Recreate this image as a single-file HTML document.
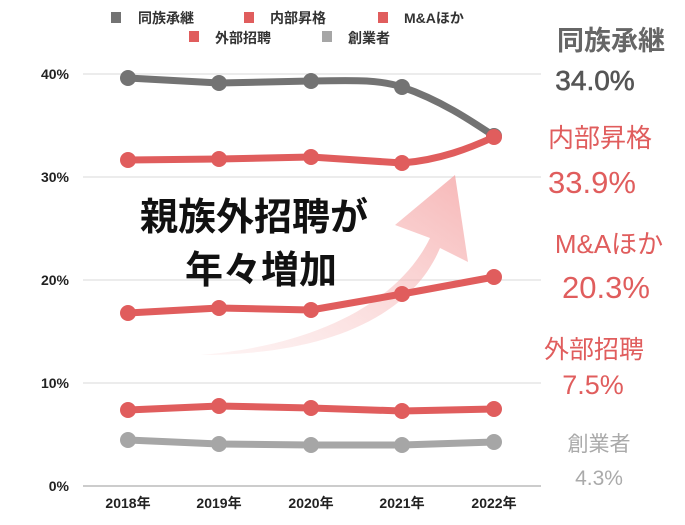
<!DOCTYPE html>
<html><head><meta charset="utf-8"><style>
body{margin:0;background:#fff;}
svg text{font-family:"Liberation Sans","Noto Sans CJK JP",sans-serif;}
</style></head><body>
<svg width="685" height="520" viewBox="0 0 685 520" xmlns="http://www.w3.org/2000/svg">
<defs>
<linearGradient id="g" x1="0" y1="1" x2="1" y2="0">
<stop offset="0" stop-color="#f8c8c8" stop-opacity="0.2"/>
<stop offset="1" stop-color="#f4a0a0" stop-opacity="0.75"/>
</linearGradient>
</defs>
<g font-size="14" font-weight="bold" fill="#333">
<rect x="111" y="12" width="10" height="11" fill="#737373"/><text x="138" y="23">同族承継</text>
<rect x="244" y="12" width="10" height="11" fill="#e05d5d"/><text x="270" y="23">内部昇格</text>
<rect x="378" y="12" width="10" height="11" fill="#e05d5d"/><text x="404" y="23">M&amp;Aほか</text>
<rect x="189" y="31" width="10" height="11" fill="#e05d5d"/><text x="215" y="43">外部招聘</text>
<rect x="322" y="31" width="10" height="11" fill="#a6a6a6"/><text x="348" y="43">創業者</text>
</g>
<g stroke="#d9d9d9" stroke-width="1">
<line x1="83" y1="74" x2="541" y2="74"/><line x1="83" y1="177" x2="541" y2="177"/>
<line x1="83" y1="280" x2="541" y2="280"/><line x1="83" y1="383" x2="541" y2="383"/>
</g>
<line x1="83" y1="486" x2="541" y2="486" stroke="#999"/>
<g font-size="14" font-weight="bold" fill="#222" text-anchor="end">
<text x="69" y="79">40%</text><text x="69" y="182">30%</text><text x="69" y="285">20%</text><text x="69" y="388">10%</text><text x="69" y="491">0%</text>
</g>
<g font-size="14" font-weight="bold" fill="#222" text-anchor="middle">
<text x="128" y="508">2018年</text><text x="219" y="508">2019年</text><text x="311" y="508">2020年</text><text x="402" y="508">2021年</text><text x="494" y="508">2022年</text>
</g>
<path d="M200 355 C320 345 400 300 430 238 L395 225 L455 175 L468 262 L440 248 C410 320 320 355 200 355 Z" fill="url(#g)"/>
<g fill="none" stroke-width="7" stroke-linejoin="round" stroke-linecap="round">
<path d="M128 78 L219 83 L311 81 C360 80 380 80 402 87 C440 100 470 120 494 136" stroke="#737373"/>
<path d="M128 160 L219 159 L311 157 L402 163 C440 160 470 148 494 137" stroke="#e05d5d"/>
<path d="M128 313 L219 308 L311 310 L402 294 L494 277" stroke="#e05d5d"/>
<path d="M128 410 L219 406 L311 408 L402 411 L494 409" stroke="#e05d5d"/>
<path d="M128 440 L219 444 L311 445 L402 445 L494 442" stroke="#a6a6a6"/>
</g>
<g fill="#737373"><circle cx="128" cy="78" r="8"/><circle cx="219" cy="83" r="8"/><circle cx="311" cy="81" r="8"/><circle cx="402" cy="87" r="8"/><circle cx="494" cy="136" r="8"/></g>
<g fill="#e05d5d"><circle cx="128" cy="160" r="8"/><circle cx="219" cy="159" r="8"/><circle cx="311" cy="157" r="8"/><circle cx="402" cy="163" r="8"/><circle cx="494" cy="137" r="8"/>
<circle cx="128" cy="313" r="8"/><circle cx="219" cy="308" r="8"/><circle cx="311" cy="310" r="8"/><circle cx="402" cy="294" r="8"/><circle cx="494" cy="277" r="8"/>
<circle cx="128" cy="410" r="8"/><circle cx="219" cy="406" r="8"/><circle cx="311" cy="408" r="8"/><circle cx="402" cy="411" r="8"/><circle cx="494" cy="409" r="8"/></g>
<g fill="#a6a6a6"><circle cx="128" cy="440" r="8"/><circle cx="219" cy="444" r="8"/><circle cx="311" cy="445" r="8"/><circle cx="402" cy="445" r="8"/><circle cx="494" cy="442" r="8"/></g>
<g font-size="38" font-weight="bold" fill="#111">
<text x="140" y="230">親族外招聘が</text>
<text x="185" y="283">年々増加</text>
</g>
<g text-anchor="middle">
<text x="611" y="50" font-size="27" font-weight="bold" fill="#666">同族承継</text>
<text x="595" y="90" font-size="28" fill="#555" stroke="#555" stroke-width="0.6">34.0%</text>
<text x="600" y="147" font-size="26" fill="#e05d5d">内部昇格</text>
<text x="592" y="193" font-size="31" fill="#e05d5d">33.9%</text>
<text x="609" y="253" font-size="26" fill="#e05d5d">M&amp;Aほか</text>
<text x="606" y="298" font-size="31" fill="#e05d5d">20.3%</text>
<text x="594" y="358" font-size="25" fill="#e05d5d">外部招聘</text>
<text x="593" y="394" font-size="27" fill="#e05d5d">7.5%</text>
<text x="599" y="451" font-size="21" fill="#aaa">創業者</text>
<text x="599" y="485" font-size="21" fill="#aaa">4.3%</text>
</g>
</svg>
</body></html>
